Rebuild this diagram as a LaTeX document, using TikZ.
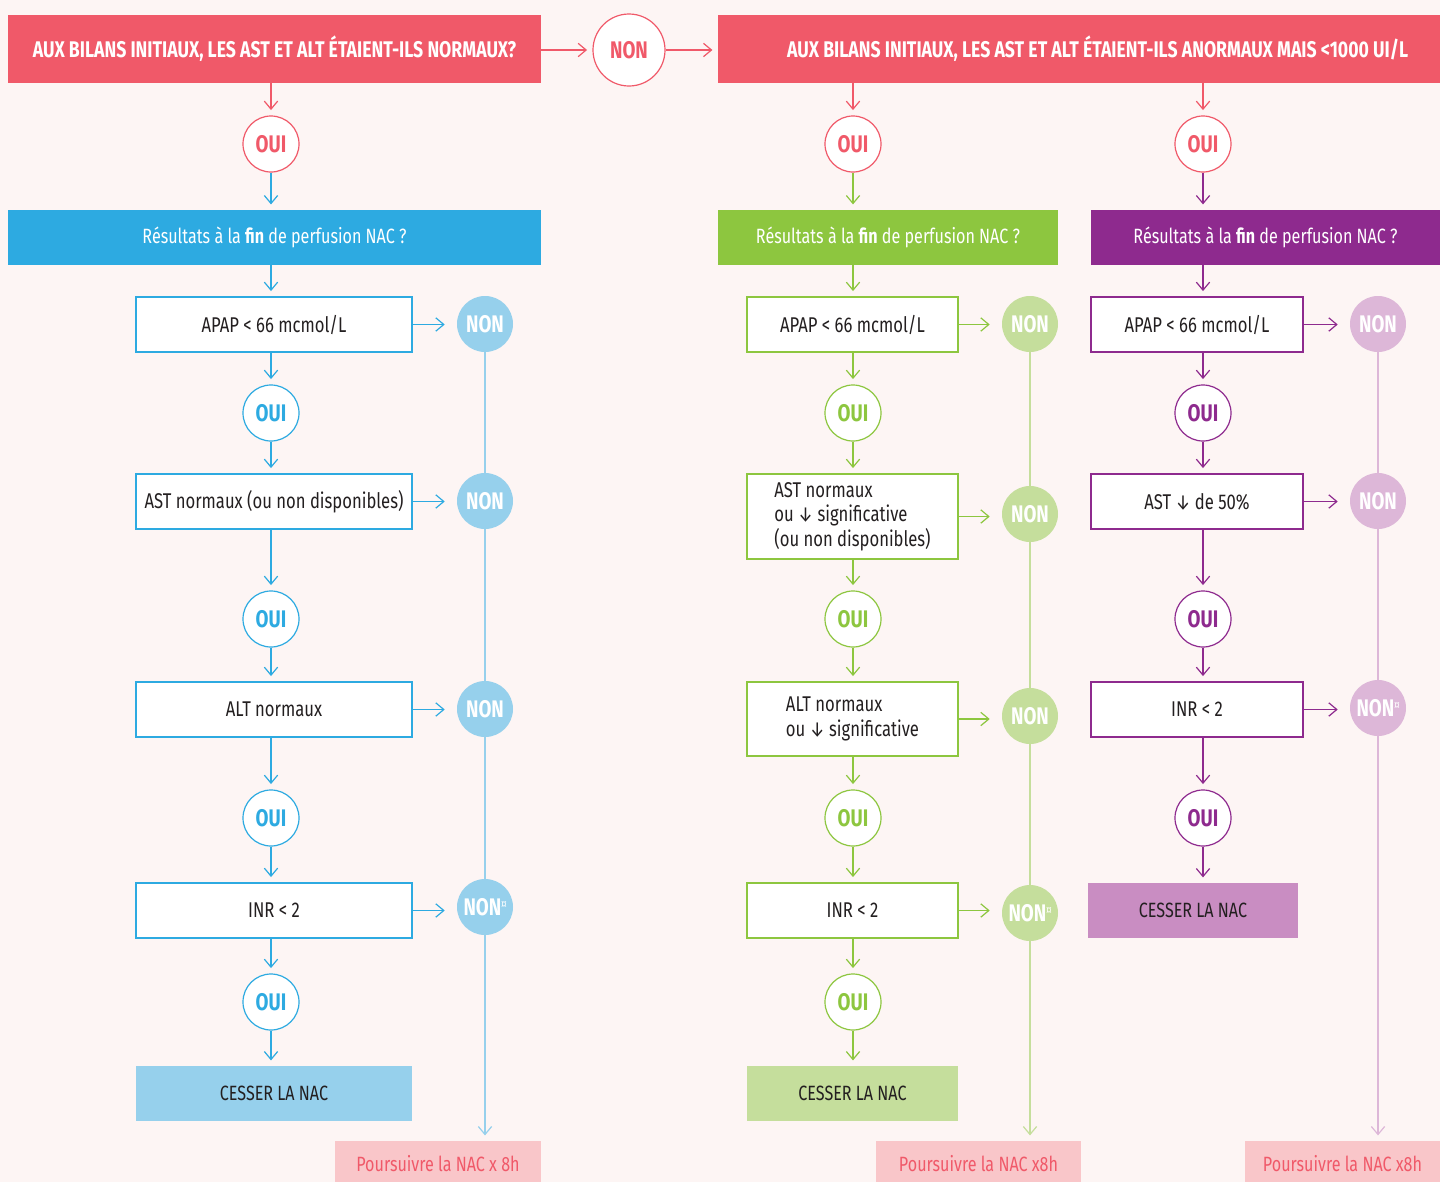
\documentclass[tikz,border=0pt]{standalone}
\usepackage{fontspec}
\setmainfont{Fira Sans}[FakeStretch=0.78]
\usetikzlibrary{arrows.meta}

\definecolor{bgc}{RGB}{253,245,244}
\definecolor{redc}{RGB}{240,89,105}
\definecolor{bluec}{RGB}{45,170,225}
\definecolor{lbluec}{RGB}{150,208,236}
\definecolor{greenc}{RGB}{141,198,63}
\definecolor{lgreenc}{RGB}{197,222,156}
\definecolor{purplec}{RGB}{142,42,142}
\definecolor{lpurplec}{RGB}{221,183,216}
\definecolor{mpurplec}{RGB}{201,141,194}
\definecolor{pinkc}{RGB}{249,198,201}
\definecolor{inkc}{RGB}{35,31,32}

\newcommand{\nsup}{\raisebox{0.55ex}{\fontsize{9}{9}\selectfont\mdseries ¤}}

\tikzset{
  hdr/.style={fill=redc, text=white, inner sep=0pt, minimum height=51pt, font=\fontsize{17}{20}\selectfont\bfseries},
  bar/.style={fill=#1, text=white, inner sep=0pt, minimum height=41.25pt, font=\fontsize{15.5}{18}\selectfont},
  qbox/.style={draw=#1, line width=0.9pt, fill=white, text=inkc, inner sep=0pt, minimum height=41.25pt, font=\fontsize{16}{18.5}\selectfont},
  oui/.style={circle, draw=#1, line width=0.9pt, fill=white, text=#1, inner sep=0pt, minimum size=42pt, font=\fontsize{18}{20}\selectfont\bfseries},
  non/.style={circle, fill=#1, text=white, inner sep=0pt, minimum size=42pt, font=\fontsize{18}{20}\selectfont\bfseries},
  stopbox/.style={fill=#1, text=inkc, inner sep=0pt, minimum height=41.25pt, font=\fontsize{15.5}{18}\selectfont},
  contbox/.style={fill=pinkc, text=redc, inner sep=0pt, minimum height=33.75pt, font=\fontsize{15.5}{18}\selectfont},
  flow/.style={draw=#1, line width=0.9pt, -{Straight Barb[length=6pt,width=10pt]}, shorten >=4pt},
  nline/.style={draw=#1, line width=0.9pt},
}

\begin{document}
\begin{tikzpicture}[x=0.75pt,y=0.75pt,yscale=-1,xscale=1]
\useasboundingbox (0,0) rectangle (1440,1182);
\fill[bgc] (0,0) rectangle (1440,1182);

% Top row
\node[hdr, minimum width=399.75pt] (hl) at (274.5,49) {AUX BILANS INITIAUX, LES AST ET ALT ÉTAIENT-ILS NORMAUX?};
\node[oui=redc, minimum size=54pt] (n0) at (629,50) {NON};
\node[hdr, minimum width=541.5pt] (hr) at (1079,49) {\hspace*{28pt}AUX BILANS INITIAUX, LES AST ET ALT ÉTAIENT-ILS ANORMAUX MAIS <1000 UI/L};
\draw[flow=redc] (hl.east |- n0) -- (n0);
\draw[flow=redc] (n0) -- (hr.west |- n0);

%% Left column
\node[oui=redc] (a0) at (271,144) {OUI};
\node[bar=bluec, minimum width=399.75pt] (ab) at (274.5,237.5) {Résultats à la \textbf{fin} de perfusion NAC ?};
\node[qbox=bluec, minimum width=207pt] (a1) at (274,324.5) {APAP < 66 mcmol/L};
\node[oui=bluec] (ay1) at (271,413) {OUI};
\node[qbox=bluec, minimum width=207pt] (a2) at (274,501.5) {AST normaux (ou non disponibles)};
\node[oui=bluec] (ay2) at (271,619) {OUI};
\node[qbox=bluec, minimum width=207pt] (a3) at (274,709.5) {ALT normaux};
\node[oui=bluec] (ay3) at (271,818) {OUI};
\node[qbox=bluec, minimum width=207pt] (a4) at (274,910.5) {INR < 2};
\node[oui=bluec] (ay4) at (271,1002) {OUI};
\node[stopbox=lbluec, minimum width=207pt] (as) at (274,1093.5) {CESSER LA NAC};
\node[non=lbluec] (an1) at (485,324) {NON};
\node[non=lbluec] (an2) at (485,501) {NON};
\node[non=lbluec] (an3) at (485,709) {NON};
\node[non=lbluec] (an4) at (485,907) {NON\nsup};
\node[contbox, minimum width=154.5pt] (ap) at (438,1163.5) {Poursuivre la NAC x 8h};

\draw[flow=redc] (hl.south -| a0) -- (a0);
\draw[flow=bluec] (a0) -- (a0 |- ab.north);
\draw[flow=bluec] (ab.south -| a0) -- (a1.north -| a0);
\draw[flow=bluec] (a1.south -| ay1) -- (ay1);
\draw[flow=bluec] (ay1) -- (a2.north -| ay1);
\draw[flow=bluec] (a2.south -| ay2) -- (ay2);
\draw[flow=bluec] (ay2) -- (a3.north -| ay2);
\draw[flow=bluec] (a3.south -| ay3) -- (ay3);
\draw[flow=bluec] (ay3) -- (a4.north -| ay3);
\draw[flow=bluec] (a4.south -| ay4) -- (ay4);
\draw[flow=bluec] (ay4) -- (as.north -| ay4);
\draw[flow=bluec, shorten >=9pt] (a1.east) -- (a1.east -| an1.west);
\draw[flow=bluec, shorten >=9pt] (a2.east) -- (a2.east -| an2.west);
\draw[flow=bluec, shorten >=9pt] (a3.east) -- (a3.east -| an3.west);
\draw[flow=bluec, shorten >=9pt] (a4.east) -- (a4.east -| an4.west);
\draw[nline=lbluec] (an1) -- (an2) -- (an3) -- (an4);
\draw[flow=lbluec] (an4) -- (an4 |- ap.north);

%% Middle column
\node[oui=redc] (b0) at (853,144) {OUI};
\node[bar=greenc, minimum width=255pt] (bb) at (888,237.5) {Résultats à la \textbf{fin} de perfusion NAC ?};
\node[qbox=greenc, minimum width=158.25pt] (b1) at (852.5,324.5) {APAP < 66 mcmol/L};
\node[oui=greenc] (by1) at (853,413) {OUI};
\node[qbox=greenc, minimum width=158.25pt, minimum height=63.75pt, align=left] (b2) at (852.5,516.5) {AST normaux\\ou ↓ significative\\(ou non disponibles)};
\node[oui=greenc] (by2) at (853,619) {OUI};
\node[qbox=greenc, minimum width=158.25pt, minimum height=55.5pt, align=left] (b3) at (852.5,719) {ALT normaux\\ou ↓ significative};
\node[oui=greenc] (by3) at (853,818) {OUI};
\node[qbox=greenc, minimum width=158.25pt] (b4) at (852.5,910.5) {INR < 2};
\node[oui=greenc] (by4) at (853,1002) {OUI};
\node[stopbox=lgreenc, minimum width=158.25pt] (bs) at (852.5,1093.5) {CESSER LA NAC};
\node[non=lgreenc] (bn1) at (1030,324) {NON};
\node[non=lgreenc] (bn2) at (1030,514) {NON};
\node[non=lgreenc] (bn3) at (1030,716) {NON};
\node[non=lgreenc] (bn4) at (1030,913) {NON\nsup};
\node[contbox, minimum width=153.75pt] (bp) at (978.5,1163.5) {Poursuivre la NAC x8h};

\draw[flow=redc] (hr.south -| b0) -- (b0);
\draw[flow=greenc] (b0) -- (b0 |- bb.north);
\draw[flow=greenc] (bb.south -| b0) -- (b1.north -| b0);
\draw[flow=greenc] (b1.south -| by1) -- (by1);
\draw[flow=greenc] (by1) -- (b2.north -| by1);
\draw[flow=greenc] (b2.south -| by2) -- (by2);
\draw[flow=greenc] (by2) -- (b3.north -| by2);
\draw[flow=greenc] (b3.south -| by3) -- (by3);
\draw[flow=greenc] (by3) -- (b4.north -| by3);
\draw[flow=greenc] (b4.south -| by4) -- (by4);
\draw[flow=greenc] (by4) -- (bs.north -| by4);
\draw[flow=greenc, shorten >=9pt] (b1.east) -- (b1.east -| bn1.west);
\draw[flow=greenc, shorten >=9pt] (b2.east) -- (b2.east -| bn2.west);
\draw[flow=greenc, shorten >=9pt] (b3.east) -- (b3.east -| bn3.west);
\draw[flow=greenc, shorten >=9pt] (b4.east) -- (b4.east -| bn4.west);
\draw[nline=lgreenc] (bn1) -- (bn2) -- (bn3) -- (bn4);
\draw[flow=lgreenc] (bn4) -- (bn4 |- bp.north);

%% Right column
\node[oui=redc] (c0) at (1203,144) {OUI};
\node[bar=purplec, minimum width=261.75pt] (cb) at (1265.5,237.5) {Résultats à la \textbf{fin} de perfusion NAC ?};
\node[qbox=purplec, minimum width=159pt] (c1) at (1197,324.5) {APAP < 66 mcmol/L};
\node[oui=purplec] (cy1) at (1203,413) {OUI};
\node[qbox=purplec, minimum width=159pt] (c2) at (1197,501.5) {AST ↓ de 50\%};
\node[oui=purplec] (cy2) at (1203,619) {OUI};
\node[qbox=purplec, minimum width=159pt] (c3) at (1197,709.5) {INR < 2};
\node[oui=purplec] (cy3) at (1203,818) {OUI};
\node[stopbox=mpurplec, minimum width=157.5pt] (cs) at (1193,910.5) {CESSER LA NAC};
\node[non=lpurplec] (cn1) at (1378,324) {NON};
\node[non=lpurplec] (cn2) at (1378,501) {NON};
\node[non=lpurplec] (cn3) at (1378,708) {NON\nsup};
\node[contbox, minimum width=146.25pt] (cp) at (1342.5,1163.5) {Poursuivre la NAC x8h};

\draw[flow=redc] (hr.south -| c0) -- (c0);
\draw[flow=purplec] (c0) -- (c0 |- cb.north);
\draw[flow=purplec] (cb.south -| c0) -- (c1.north -| c0);
\draw[flow=purplec] (c1.south -| cy1) -- (cy1);
\draw[flow=purplec] (cy1) -- (c2.north -| cy1);
\draw[flow=purplec] (c2.south -| cy2) -- (cy2);
\draw[flow=purplec] (cy2) -- (c3.north -| cy2);
\draw[flow=purplec] (c3.south -| cy3) -- (cy3);
\draw[flow=purplec] (cy3) -- (cs.north -| cy3);
\draw[flow=purplec, shorten >=9pt] (c1.east) -- (c1.east -| cn1.west);
\draw[flow=purplec, shorten >=9pt] (c2.east) -- (c2.east -| cn2.west);
\draw[flow=purplec, shorten >=9pt] (c3.east) -- (c3.east -| cn3.west);
\draw[nline=lpurplec] (cn1) -- (cn2) -- (cn3);
\draw[flow=lpurplec] (cn3) -- (cn3 |- cp.north);

\end{tikzpicture}
\end{document}
